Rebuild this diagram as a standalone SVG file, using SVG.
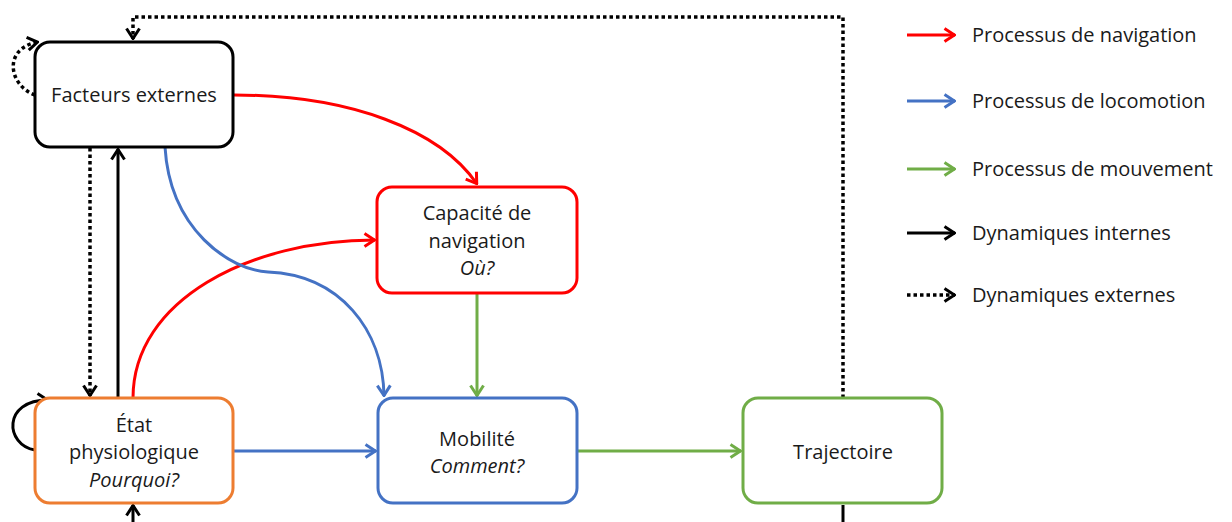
<svg xmlns="http://www.w3.org/2000/svg" width="1232" height="522" viewBox="0 0 1232 522">
<style>
.box{fill:#fff;stroke-width:3}
.t{font-family:"Open Sans","Liberation Sans",sans-serif;font-size:20px;fill:#1a1a1a;text-anchor:middle}
.lt{font-family:"Open Sans","Liberation Sans",sans-serif;font-size:20px;fill:#1a1a1a}
.i{font-style:italic}
.c{fill:none;stroke-width:3}
.red{stroke:#FF0000}
.blue{stroke:#4472C4}
.green{stroke:#70AD47}
.blk{stroke:#000}
.dot{stroke-dasharray:3.5 3;stroke-width:3.5}
</style>
<defs>
<marker id="aR" viewBox="0 0 13 16" refX="12" refY="8" markerWidth="13" markerHeight="16" markerUnits="userSpaceOnUse" orient="auto"><path d="M1.5,1.5 L11.5,8 L1.5,14.5" fill="none" stroke="#FF0000" stroke-width="3"/></marker>
<marker id="aB" viewBox="0 0 13 16" refX="12" refY="8" markerWidth="13" markerHeight="16" markerUnits="userSpaceOnUse" orient="auto"><path d="M1.5,1.5 L11.5,8 L1.5,14.5" fill="none" stroke="#4472C4" stroke-width="3"/></marker>
<marker id="aG" viewBox="0 0 13 16" refX="12" refY="8" markerWidth="13" markerHeight="16" markerUnits="userSpaceOnUse" orient="auto"><path d="M1.5,1.5 L11.5,8 L1.5,14.5" fill="none" stroke="#70AD47" stroke-width="3"/></marker>
<marker id="aK" viewBox="0 0 13 16" refX="12" refY="8" markerWidth="13" markerHeight="16" markerUnits="userSpaceOnUse" orient="auto"><path d="M1.5,1.5 L11.5,8 L1.5,14.5" fill="none" stroke="#000" stroke-width="3"/></marker>
</defs>
<g id="connectors">
<path class="c blk dot" d="M843,398 V17 H133 V39" marker-end="url(#aK)"/>
<path class="c blk" d="M843,505 V522"/>
<path class="c blk" d="M133,522 V505" marker-end="url(#aK)"/>
<path class="c blk dot" d="M35,95 C8,85 3,48 38,42" marker-end="url(#aK)"/>
<path class="c blk" d="M35,450 C5,445 2,400 48,400" marker-end="url(#aK)"/>
<path class="c blk dot" d="M90,148 V396" marker-end="url(#aK)"/>
<path class="c blk" d="M118,398 V149" marker-end="url(#aK)"/>
<path class="c red" d="M234,95 C350,95 440,130 477,184" marker-end="url(#aR)"/>
<path class="c red" d="M133,398 C133,300 250,240 375,240" marker-end="url(#aR)"/>
<path class="c blue" d="M165,147 C170,230 230,270 268,272 C340,275 383,330 384,396" marker-end="url(#aB)"/>
<path class="c green" d="M477,293 V396" marker-end="url(#aG)"/>
<path class="c blue" d="M234,451 H376" marker-end="url(#aB)"/>
<path class="c green" d="M577,451 H741" marker-end="url(#aG)"/>
</g>
<g id="n-facteurs"><rect class="box" x="35" y="42" width="198" height="105" rx="15" stroke="#000"/><text class="t" x="134" y="102">Facteurs externes</text></g>
<g id="n-capacite"><rect class="box" x="377" y="187" width="200" height="106" rx="15" stroke="#FF0000"/><text class="t" x="477" y="220">Capacité de</text><text class="t" x="477" y="248">navigation</text><text class="t i" x="477" y="275">Où?</text></g>
<g id="n-etat"><rect class="box" x="35" y="398" width="198" height="105" rx="15" stroke="#ED7D31"/><text class="t" x="134" y="432">État</text><text class="t" x="134" y="459">physiologique</text><text class="t i" x="134" y="487">Pourquoi?</text></g>
<g id="n-mobilite"><rect class="box" x="378" y="398" width="199" height="105" rx="15" stroke="#4472C4"/><text class="t" x="477" y="446">Mobilité</text><text class="t i" x="477" y="473">Comment?</text></g>
<g id="n-trajectoire"><rect class="box" x="743" y="398" width="199" height="105" rx="15" stroke="#70AD47"/><text class="t" x="843" y="459">Trajectoire</text></g>
<g id="legend">
<path class="c red" d="M907,35 H955" marker-end="url(#aR)"/><text class="lt" x="972" y="42">Processus de navigation</text>
<path class="c blue" d="M907,101 H955" marker-end="url(#aB)"/><text class="lt" x="972" y="108">Processus de locomotion</text>
<path class="c green" d="M907,169 H955" marker-end="url(#aG)"/><text class="lt" x="972" y="176">Processus de mouvement</text>
<path class="c blk" d="M907,233 H955" marker-end="url(#aK)"/><text class="lt" x="972" y="240">Dynamiques internes</text>
<path class="c blk dot" d="M907,295 H955" marker-end="url(#aK)"/><text class="lt" x="972" y="302">Dynamiques externes</text>
</g>
</svg>
